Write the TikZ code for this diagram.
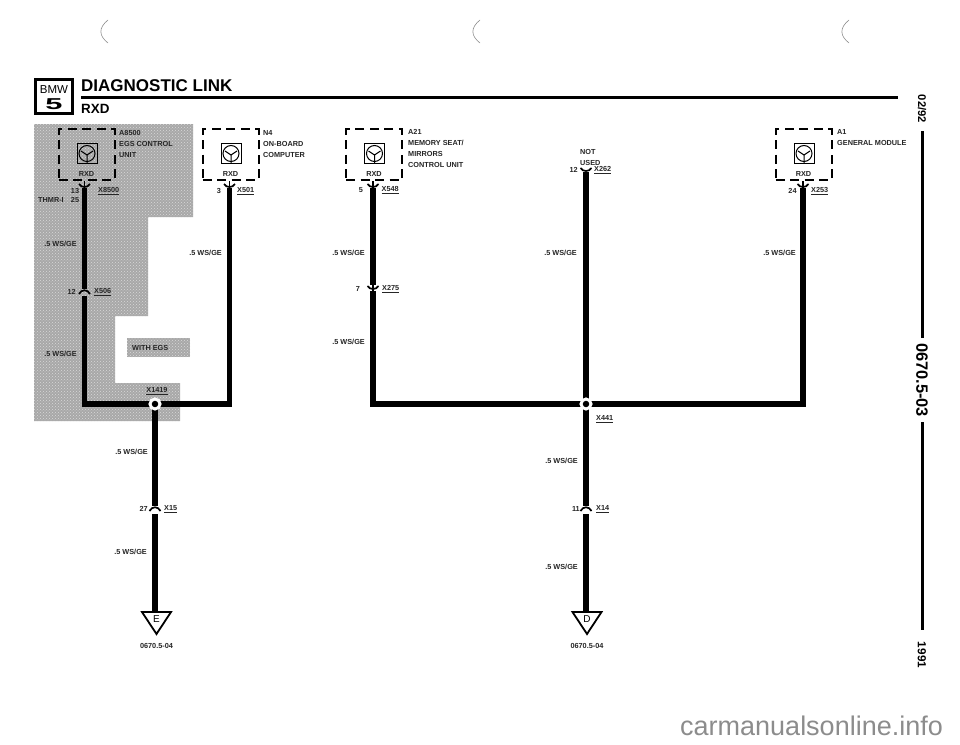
\documentclass[tikz,border=0pt]{standalone}
\usepackage{fontspec}
\setmainfont{Liberation Sans}
\usetikzlibrary{patterns}
\tikzset{
	wire/.style={line width=5.5pt},
	pinline/.style={line width=1.7pt},
	modbox/.style={draw, line width=2pt, dash pattern=on 9pt off 5.5pt, minimum width=56pt, minimum height=51pt, inner sep=0},
	iconbox/.style={draw, line width=1pt, minimum size=20pt, inner sep=0},
	junction/.style={circle, fill=black, draw=white, line width=3pt, minimum size=10pt, inner sep=0},
	lbl/.style={font=\fontsize{7.3}{8}\selectfont\bfseries, inner sep=0, text=black!85},
	lbw/.style={lbl, anchor=west},
	lbe/.style={lbl, anchor=east},
	ruler/.style={line width=3pt},
	shade/.style={pattern=crosshatch dots, pattern color=gray!30},
	scanmark/.style={line width=.6pt, black!45}
}
\begin{document}
\begin{tikzpicture}[x=1pt, y=-1pt]
	\useasboundingbox (0,0) rectangle (960,744);
	
	% Zona con EGS
	\fill[gray!68] (34,124) -- (193,124) -- (193,217) -- (148,217) -- (148,316) -- (115,316) -- (115,383) -- (180,383) -- (180,421) -- (34,421) -- cycle;
	\fill[shade] (34,124) -- (193,124) -- (193,217) -- (148,217) -- (148,316) -- (115,316) -- (115,383) -- (180,383) -- (180,421) -- (34,421) -- cycle;
	\node[fill=gray!68, minimum width=63pt, minimum height=19pt, inner sep=0] (withbox) at (158.5,347.5) {};
	\node[shade, minimum width=63pt, minimum height=19pt, inner sep=0] (withdots) at (158.5,347.5) {};
	\node[lbw] (withegs) at (132,348) {WITH EGS};
	
	% Cabecera
	\node[draw, line width=2.8pt, minimum width=37pt, minimum height=34pt, inner sep=0] (logo) at (54,96.5) {};
	\node[font=\fontsize{11.5}{12}\selectfont, inner sep=0] (logobmw) at (54,89.5) {BMW};
	\node[font=\fontsize{15}{15}\selectfont\bfseries, inner sep=0] (logofive) at (54,104) {\scalebox{2.05}[1.05]{5}};
	\node[font=\fontsize{17}{18}\selectfont\bfseries, anchor=west, inner sep=0] (title) at (81,85.5) {DIAGNOSTIC LINK};
	\node[font=\fontsize{13.4}{14}\selectfont\bfseries, anchor=west, inner sep=0] (subtitle) at (81,109) {RXD};
	\coordinate (rulea) at (81,97);
	\coordinate (ruleb) at (898,97);
	\draw[ruler] (rulea) -- (ruleb);
	
	% Margen derecho
	\node[font=\fontsize{11.2}{12}\selectfont\bfseries, rotate=-90, inner sep=0] (date) at (922,109) {02/92};
	\node[font=\fontsize{16.4}{17}\selectfont\bfseries, rotate=-90, inner sep=0] (docnum) at (922,380) {0670.5-03};
	\node[font=\fontsize{11.7}{12}\selectfont\bfseries, rotate=-90, inner sep=0] (year) at (922,655) {1991};
	\coordinate (railb) at (922,338);
	\coordinate (railc) at (922,422);
	\coordinate (raild) at (922,630);
	\draw[ruler] (date.east) ++(0,8) -- (railb);
	\draw[ruler] (railc) -- (raild);
	
	% Modulos
	\foreach \name/\bx/\wx in {egs/86.5/84.5, nfour/230.5/229.5, atwo/374/373, aone/803.5/803}{
		\node[modbox] (\name) at (\bx,154.5) {};
		\node[iconbox] (\name icon) at (\bx+.5,153.5) {};
		\draw[line width=1pt] (\name icon) circle (8pt);
		\draw[line width=1pt] (\bx-5.5,151) -- (\bx+.5,155) -- (\bx+6.5,151) (\bx+.5,155) -- (\bx+.5,163);
		\node[lbl] (\name rxd) at (\bx,174) {RXD};
		\coordinate (\name pin) at (\wx,188);
		\draw[pinline] (\wx,181) -- (\wx,188);
		\draw[pinline] (\wx-5.5,184) .. controls (\wx-3,188) and (\wx+3,188) .. (\wx+5.5,184);
	}
	\foreach \wx/\wy in {586/169, 373/287}{
		\draw[pinline] (\wx-5.5,\wy-1) .. controls (\wx-3,\wy+3) and (\wx+3,\wy+3) .. (\wx+5.5,\wy-1);
	}
	
	% Bornes
	\foreach \wx/\wy in {84.5/292, 155/509, 586/509}{
		\draw[pinline] (\wx-5.5,\wy+2) .. controls (\wx-3,\wy-3) and (\wx+3,\wy-3) .. (\wx+5.5,\wy+2);
	}
	
	\coordinate (usedpin) at (586,172);
	\coordinate (xsixtop) at (84.5,289);
	\coordinate (xsixlow) at (84.5,296);
	\coordinate (xtwotop) at (373,285);
	\coordinate (xtwolow) at (373,291);
	\coordinate (xfivetop) at (155,506);
	\coordinate (xfivelow) at (155,514);
	\coordinate (xfourtop) at (586,506);
	\coordinate (xfourlow) at (586,514);
	\coordinate (splitl) at (155,404);
	\coordinate (splitr) at (586,404);
	
	% Masas
	\foreach \name/\tx/\wx in {E/156.5/155, D/587/586}{
		\draw[line width=1.8pt] (\tx-14.5,612) -- (\tx+14.5,612) -- (\tx,634) -- cycle;
		\coordinate (tip\name) at (\wx,612);
		\node[font=\fontsize{10}{10}\selectfont, inner sep=0] (letter\name) at (\tx,619) {\name};
		\node[lbl] (code\name) at (\tx,646) {0670.5-04};
	}
	
	% Cables
	\draw[wire] (egspin) -- (xsixtop);
	\draw[wire] (xtwolow) -- (373,404) -- (803,404) -- (aonepin);
	\draw[wire] (xsixlow) -- (84.5,404) -- (229.5,404) -- (nfourpin);
	\draw[wire] (atwopin) -- (xtwotop);
	\draw[pinline] (xtwotop) -- (xtwolow);
	\draw[wire] (usedpin) -- (splitr);
	\draw[wire] (splitr) -- (xfourtop);
	\draw[wire] (xfourlow) -- (tipD);
	\draw[wire] (splitl) -- (xfivetop);
	\draw[wire] (xfivelow) -- (tipE);
	\node[junction] (dotl) at (splitl) {};
	\node[junction] (dotr) at (splitr) {};
	
	% Textos
	\node[lbw] (t1) at (119,133) {A8500};
	\node[lbw] (t2) at (119,144) {EGS CONTROL};
	\node[lbw] (t3) at (119,155) {UNIT};
	\node[lbl] (t4) at (75,190.5) {13};
	\node[lbw] (t5) at (98,191) {\underline{X8500}};
	\node[lbw] (t6) at (38,200) {THMR-I};
	\node[lbl] (t7) at (75,200) {25};
	\node[lbe] (t8) at (77,244) {.5 WS/GE};
	\node[lbe] (t9) at (76,292) {12};
	\node[lbw] (t10) at (94,292) {\underline{X506}};
	\node[lbe] (t11) at (77,354) {.5 WS/GE};
	\node[lbl] (t12) at (157,391) {\underline{X1419}};
	\node[lbe] (t13) at (148,452) {.5 WS/GE};
	\node[lbe] (t14) at (148,509) {27};
	\node[lbw] (t15) at (164,509) {\underline{X15}};
	\node[lbe] (t16) at (147,552) {.5 WS/GE};
	
	\node[lbw] (t17) at (263,133) {N4};
	\node[lbw] (t18) at (263,144) {ON-BOARD};
	\node[lbw] (t19) at (263,155) {COMPUTER};
	\node[lbl] (t20) at (219,191) {3};
	\node[lbw] (t21) at (237,191) {\underline{X501}};
	\node[lbe] (t22) at (222,253) {.5 WS/GE};
	
	\node[lbw] (t23) at (408,132) {A21};
	\node[lbw] (t24) at (408,142.5) {MEMORY SEAT/};
	\node[lbw] (t25) at (408,154) {MIRRORS};
	\node[lbw] (t26) at (408,165) {CONTROL UNIT};
	\node[lbl] (t27) at (361,190) {5};
	\node[lbw] (t28) at (381.5,190) {\underline{X548}};
	\node[lbe] (t29) at (365,253) {.5 WS/GE};
	\node[lbl] (t30) at (358,289) {7};
	\node[lbw] (t31) at (382,289) {\underline{X275}};
	\node[lbe] (t32) at (365,342) {.5 WS/GE};
	
	\node[lbw] (t33) at (580,152) {NOT};
	\node[lbw] (t34) at (580,162.5) {USED};
	\node[lbe] (t35) at (578,170) {12};
	\node[lbw] (t36) at (594,170) {\underline{X262}};
	\node[lbe] (t37) at (577,253) {.5 WS/GE};
	\node[lbw] (t38) at (596,419) {\underline{X441}};
	\node[lbe] (t39) at (578,461) {.5 WS/GE};
	\node[lbe] (t40) at (580,509) {11};
	\node[lbw] (t41) at (596,509) {\underline{X14}};
	\node[lbe] (t42) at (578,567) {.5 WS/GE};
	
	\node[lbw] (t43) at (837,132) {A1};
	\node[lbw] (t44) at (837,143) {GENERAL MODULE};
	\node[lbl] (t45) at (792.5,190.5) {24};
	\node[lbw] (t46) at (811,191) {\underline{X253}};
	\node[lbe] (t47) at (796,253) {.5 WS/GE};
	
	% Marcas de escaneo
	\foreach \px in {108, 480, 849}{
		\draw[scanmark] (\px,20) .. controls (\px-10,28) and (\px-9,36) .. (\px,43);
	}
	\node[font=\fontsize{27}{28}\selectfont, text=black!45, anchor=base west, inner sep=0] (mark) at (680,735) {carmanualsonline.info};
\end{tikzpicture}
\end{document}
